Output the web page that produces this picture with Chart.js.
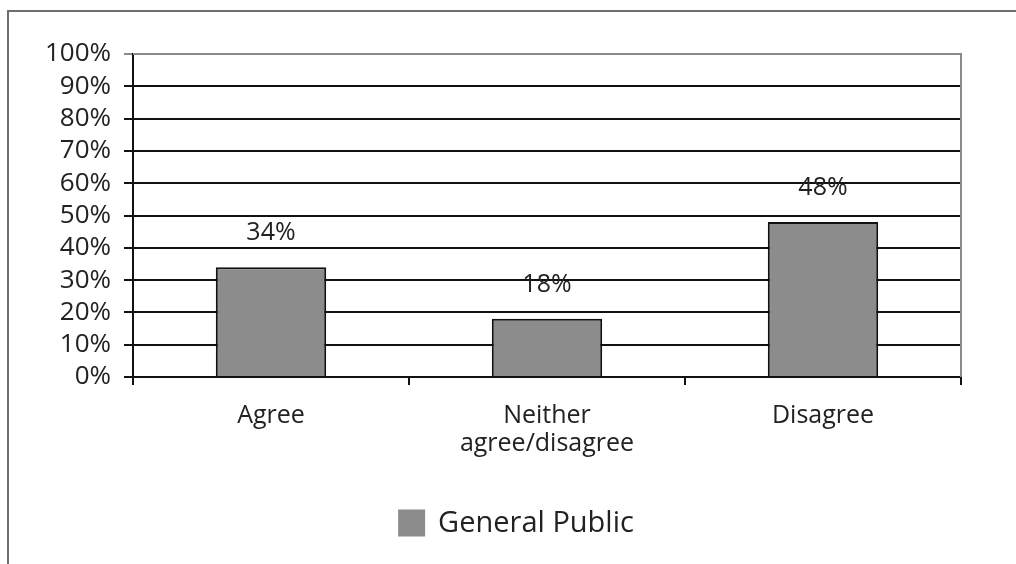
<!DOCTYPE html>
<html>
<head>
<meta charset="utf-8">
<script src="https://cdn.jsdelivr.net/npm/chart.js@4.4.1/dist/chart.umd.min.js"></script>
<style>
  html, body { margin: 0; padding: 0; background: #fff; }
  #wrap { width: 1016px; height: 564px; position: relative; }
</style>
</head>
<body>
<div id="wrap"><canvas id="chart" width="1016" height="564"></canvas></div>
<script>
// data
const categories = ['Agree', ['Neither', 'agree/disagree'], 'Disagree'];
const seriesName = 'General Public';
const values = [34, 18, 48];
const yTicks = [0, 10, 20, 30, 40, 50, 60, 70, 80, 90, 100];

const FONT = '"Open Sans", "DejaVu Sans", sans-serif';
const TEXT = '#222';
const BAR = '#8c8c8c';

// outer frame + right/top border of plot area
const framePlugin = {
  id: 'frame',
  beforeDraw(chart) {
    const ctx = chart.ctx;
    ctx.save();
    ctx.strokeStyle = '#6e6e6e';
    ctx.lineWidth = 2;
    ctx.beginPath();
    ctx.moveTo(8, 564);
    ctx.lineTo(8, 11);
    ctx.lineTo(1016, 11);
    ctx.stroke();
    ctx.restore();
  },
  beforeDatasetsDraw(chart) {
    const a = chart.chartArea;
    const ctx = chart.ctx;
    ctx.save();
    ctx.strokeStyle = '#8a8a8a';
    ctx.lineWidth = 2;
    ctx.beginPath();
    ctx.moveTo(a.left, a.top);
    ctx.lineTo(a.right, a.top);
    ctx.lineTo(a.right, a.bottom);
    ctx.stroke();
    ctx.restore();
  }
};

// value labels above bars
const valueLabels = {
  id: 'valueLabels',
  afterDatasetsDraw(chart) {
    const ctx = chart.ctx;
    const meta = chart.getDatasetMeta(0);
    ctx.save();
    ctx.font = '25px ' + FONT;
    ctx.fillStyle = TEXT;
    ctx.textAlign = 'center';
    ctx.textBaseline = 'middle';
    meta.data.forEach((bar, i) => {
      ctx.fillText(values[i] + '%', bar.x, bar.y - 34);
    });
    ctx.restore();
  }
};

// legend: plain grey square + series name, below the axis
const legendPlugin = {
  id: 'simpleLegend',
  afterDraw(chart) {
    const ctx = chart.ctx;
    ctx.save();
    ctx.font = '29px ' + FONT;
    const box = 27, gap = 13;
    const tw = ctx.measureText(seriesName).width;
    const x0 = 516 - (box + gap + tw) / 2;
    const cy = 523;
    ctx.fillStyle = chart.data.datasets[0].backgroundColor;
    ctx.fillRect(x0, cy - box / 2, box, box);
    ctx.fillStyle = TEXT;
    ctx.textBaseline = 'middle';
    ctx.textAlign = 'left';
    ctx.fillText(seriesName, x0 + box + gap, cy + 1);
    ctx.restore();
  }
};

new Chart(document.getElementById('chart'), {
  type: 'bar',
  data: {
    labels: categories,
    datasets: [{
      label: seriesName,
      data: values,
      backgroundColor: BAR,
      borderColor: '#111',
      borderWidth: 2,
      barPercentage: 0.4,
      categoryPercentage: 1
    }]
  },
  options: {
    responsive: false,
    animation: false,
    layout: { padding: { top: 54, right: 55, left: 0, bottom: 0 } },
    plugins: {
      legend: { display: false },
      tooltip: { enabled: false }
    },
    scales: {
      x: {
        afterFit(scale) { scale.height = 187; },
        grid: {
          offset: true,
          drawOnChartArea: false,
          drawTicks: true,
          tickLength: 8,
          color: '#111',
          lineWidth: 2
        },
        border: { color: '#111', width: 2 },
        ticks: {
          color: TEXT,
          padding: 17,
          font: { family: FONT, size: 25, lineHeight: 1.12 }
        }
      },
      y: {
        min: 0,
        max: 100,
        afterFit(scale) { scale.width = 133; },
        afterBuildTicks(scale) { scale.ticks = yTicks.map(v => ({ value: v })); },
        grid: {
          color: ctx => ctx.tick && ctx.tick.value === 100 ? '#8a8a8a' : '#111',
          lineWidth: 2,
          tickLength: 9
        },
        border: { color: '#111', width: 2 },
        ticks: {
          autoSkip: false,
          color: TEXT,
          padding: 13,
          font: { family: FONT, size: 26 },
          callback: v => v + '%'
        }
      }
    }
  },
  plugins: [framePlugin, valueLabels, legendPlugin]
});
</script>
</body>
</html>
